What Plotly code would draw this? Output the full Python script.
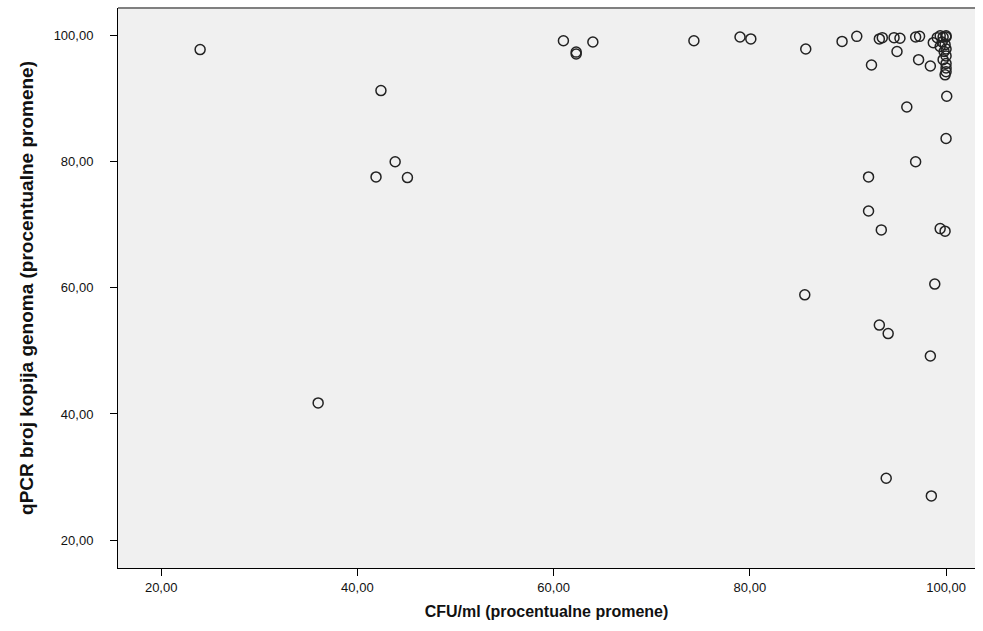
import plotly.graph_objects as go

cfu = [23.97, 36.0, 42.4, 41.9, 43.85, 45.1, 61.0, 62.3, 62.3, 64.0, 74.3, 79.0, 80.1,
       85.7, 85.6, 89.4, 90.9, 93.2, 93.5, 94.7, 95.3, 96.9, 97.3, 95.0, 92.4, 97.2,
       98.4, 100.07, 96.0, 100.0, 96.9, 92.1, 92.1, 93.4, 99.4, 99.9, 98.85, 93.2,
       94.1, 98.4, 93.9, 98.5,
       98.7, 99.1, 99.4, 99.7, 100.0, 100.0, 99.6, 99.9, 99.4, 100.0, 99.8, 100.0,
       99.7, 100.0, 100.0, 100.0, 99.9]
qpcr = [97.8, 41.75, 91.3, 77.6, 80.0, 77.5, 99.2, 97.4, 97.1, 99.0, 99.2, 99.8, 99.5,
        97.9, 58.9, 99.1, 99.9, 99.5, 99.7, 99.7, 99.6, 99.8, 99.9, 97.5, 95.35, 96.2,
        95.2, 90.4, 88.7, 83.7, 80.0, 77.6, 72.2, 69.2, 69.4, 69.0, 60.6, 54.1,
        52.75, 49.2, 29.8, 27.0,
        98.9, 99.7, 100.0, 99.8, 100.0, 99.8, 99.0, 98.6, 98.3, 97.9, 97.5, 96.8,
        96.2, 95.6, 94.9, 94.3, 93.8]

tick_vals = [20, 40, 60, 80, 100]
tick_text = ["20,00", "40,00", "60,00", "80,00", "100,00"]

fig = go.Figure(go.Scatter(
    x=cfu, y=qpcr, mode="markers",
    marker=dict(symbol="circle-open", size=10, color="#222222", line=dict(width=1.5)),
    hoverinfo="x+y",
))

font_family = "Liberation Sans, Arial, sans-serif"
fig.update_layout(
    width=983, height=631,
    margin=dict(l=118, r=8, t=8, b=63),
    paper_bgcolor="white", plot_bgcolor="#F0F0F0",
    showlegend=False,
    font=dict(family=font_family, color="#111111", size=13),
    xaxis=dict(
        range=[15.6, 102.95], tickvals=tick_vals, ticktext=tick_text,
        showgrid=False, zeroline=False, showline=True, linecolor="#000000", linewidth=1,
        ticks="outside", ticklen=7, tickcolor="#000000", tickfont=dict(size=13),
        title=dict(text="<b>CFU/ml (procentualne promene)</b>", font=dict(size=16), standoff=12),
    ),
    yaxis=dict(
        range=[15.56, 104.4], tickvals=tick_vals, ticktext=tick_text,
        showgrid=False, zeroline=False, showline=True, linecolor="#000000", linewidth=1,
        ticks="outside", ticklen=7, tickcolor="#000000", tickfont=dict(size=13),
        ticklabelstandoff=14,
        title=dict(text="<b>qPCR broj kopija genoma (procentualne promene)</b>", font=dict(size=19), standoff=14),
    ),
    shapes=[dict(type="line", xref="paper", yref="paper", x0=0, x1=1, y0=1, y1=1,
                 line=dict(color="#808080", width=2))],
)

fig.write_html("out.html")
